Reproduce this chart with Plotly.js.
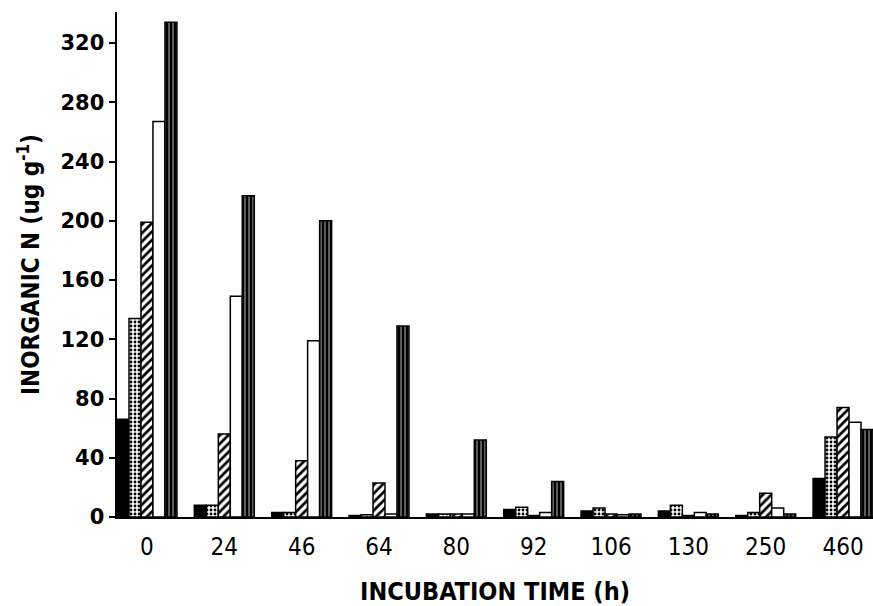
<!DOCTYPE html>
<html>
<head>
<meta charset="utf-8">
<script src="https://cdn.plot.ly/plotly-3.0.1.min.js"></script>
<style>html,body{margin:0;padding:0;background:#fff;}#chart{width:873px;height:606px;}</style>
</head>
<body>
<div id="chart"></div>
<script>
// Incubation times (categories)
const times = ['0', '24', '46', '64', '80', '92', '106', '130', '250', '460'];
// Five series (values in ug g-1)
const seriesSolid    = [66, 8, 3, 1, 2, 5, 4, 4, 1, 26];
const seriesDotted   = [134, 8, 3, 1.5, 2, 6.5, 6, 8, 3, 54];
const seriesHatched  = [199, 56, 38, 23, 2, 1, 2, 1, 16, 74];
const seriesOpen     = [267, 149, 119, 2, 2, 3, 1.5, 3, 6, 64];
const seriesStriped  = [334, 217, 200, 129, 52, 24, 2, 2, 2, 59];
const yTicks = [0, 40, 80, 120, 160, 200, 240, 280, 320];

const line = {color: '#000', width: 1.5};
const traces = [
  {y: seriesSolid, marker: {color: '#000', line: line}},
  {y: seriesDotted, marker: {color: '#fff', line: line,
      pattern: {shape: '.', fgcolor: '#000', bgcolor: '#fff', size: 4, solidity: 0.4, fillmode: 'replace'}}},
  {y: seriesHatched, marker: {color: '#fff', line: line,
      pattern: {shape: '/', fgcolor: '#000', bgcolor: '#fff', size: 6, solidity: 0.45, fillmode: 'replace'}}},
  {y: seriesOpen, marker: {color: '#fff', line: line}},
  {y: seriesStriped, marker: {color: '#000', line: line,
      pattern: {shape: '|', fgcolor: '#000', bgcolor: '#fff', size: 4, solidity: 0.82, fillmode: 'replace'}}}
].map(t => Object.assign({type: 'bar', x: times, hoverinfo: 'y'}, t));

const layout = {
  width: 873, height: 606,
  margin: {l: 117, r: 0, t: 12, b: 89},
  paper_bgcolor: '#fff', plot_bgcolor: '#fff',
  showlegend: false,
  barmode: 'group', bargap: 0.225, bargroupgap: 0,
  xaxis: {
    type: 'category', range: [-0.3875, 9.3875],
    showline: true, linecolor: '#000', linewidth: 2,
    ticks: '', showgrid: false, zeroline: false,
    ticklabelstandoff: 7,
    tickfont: {family: 'DejaVu Sans Condensed', size: 24, color: '#000'},
    title: {text: 'INCUBATION TIME (h)', standoff: 26,
            font: {family: 'DejaVu Sans Condensed', size: 25, color: '#000', weight: 'bold'}}
  },
  yaxis: {
    range: [0, 341], tickvals: yTicks, ticktext: yTicks.map(String),
    showline: true, linecolor: '#000', linewidth: 2.5,
    ticks: 'outside', ticklen: 6, tickwidth: 2, tickcolor: '#000',
    showgrid: false, zeroline: false,
    tickfont: {family: 'DejaVu Sans', size: 21, color: '#000', weight: 'bold'},
    title: {text: 'INORGANIC N (ug g<sup>-1</sup>)', standoff: 14,
            font: {family: 'DejaVu Sans Condensed', size: 24, color: '#000', weight: 'bold'}}
  }
};

Plotly.newPlot('chart', traces, layout, {displayModeBar: false, staticPlot: true});
</script>
</body>
</html>
